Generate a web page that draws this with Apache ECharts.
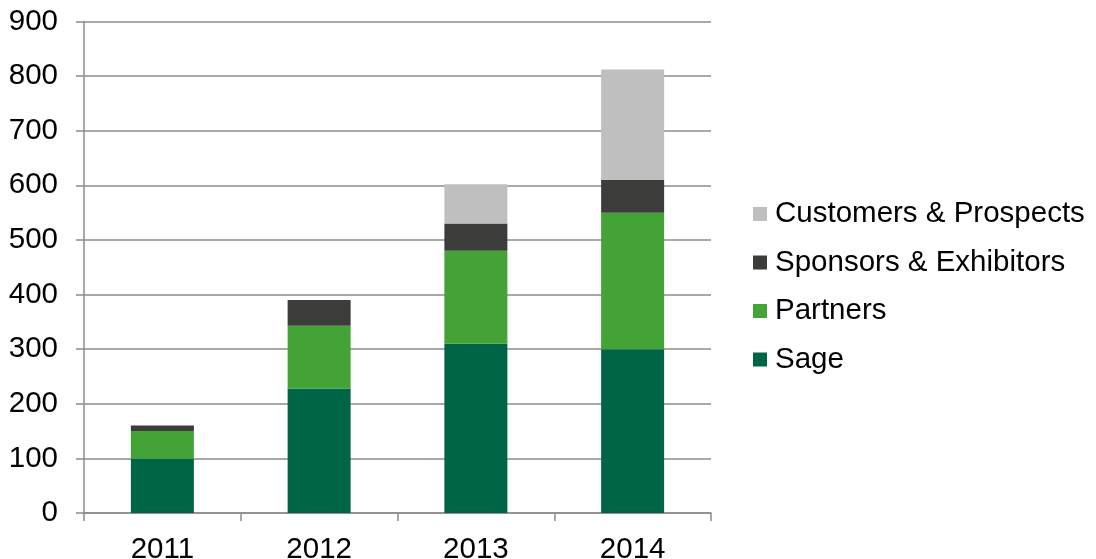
<!DOCTYPE html>
<html>
<head>
<meta charset="utf-8">
<script src="https://cdn.jsdelivr.net/npm/echarts@6/dist/echarts.min.js"></script>
<style>
  html, body { margin: 0; padding: 0; background: #fff; }
  #chart { width: 1096px; height: 559px; }
</style>
</head>
<body>
<div id="chart"></div>
<script>
const years = ['2011', '2012', '2013', '2014'];
const sage = [100, 228, 310, 300];
const partners = [50, 115, 170, 250];
const sponsors = [10, 47, 50, 60];
const customers = [0, 0, 72, 202];
const yTicks = { min: 0, max: 900, step: 100 };

const gray = '#8c8c8c';
const font = 'Liberation Sans, Arial, sans-serif';
const fontSize = 29.5;

const chart = echarts.init(document.getElementById('chart'));

function barSeries (name, data, color) {
  return {
    name: name,
    type: 'bar',
    stack: 'total',
    barWidth: 63,
    data: data,
    itemStyle: { color: color },
    emphasis: { disabled: true }
  };
}

chart.setOption({
  animation: false,
  textStyle: { fontFamily: font },
  grid: { left: 84, right: 385, top: 21.5, bottom: 46, containLabel: false, outerBoundsMode: 'none' },
  legend: {
    orient: 'vertical',
    left: 748,
    top: 194,
    icon: 'rect',
    itemWidth: 14,
    itemHeight: 14,
    itemGap: 18.5,
    textStyle: { fontSize: fontSize, color: '#000', fontFamily: font, padding: [0, 0, 0, 3] },
    data: ['Customers & Prospects', 'Sponsors & Exhibitors', 'Partners', 'Sage']
  },
  xAxis: {
    type: 'category',
    data: years,
    axisLine: { lineStyle: { color: gray, width: 1.5 } },
    axisTick: { show: true, length: 8, lineStyle: { color: gray, width: 1.5 } },
    axisLabel: { fontSize: fontSize, color: '#000', margin: 22, fontFamily: font }
  },
  yAxis: {
    type: 'value',
    min: yTicks.min,
    max: yTicks.max,
    interval: yTicks.step,
    axisLine: { show: true, lineStyle: { color: gray, width: 1.5 } },
    axisTick: { show: true, length: 8, lineStyle: { color: gray, width: 1.5 } },
    axisLabel: { fontSize: fontSize, color: '#000', margin: 26, fontFamily: font },
    splitLine: { lineStyle: { color: gray, width: 1.5 } }
  },
  series: [
    barSeries('Sage', sage, '#006546'),
    barSeries('Partners', partners, '#43a336'),
    barSeries('Sponsors & Exhibitors', sponsors, '#3c3c3b'),
    barSeries('Customers & Prospects', customers, '#bfbfbf')
  ]
});
</script>
</body>
</html>
